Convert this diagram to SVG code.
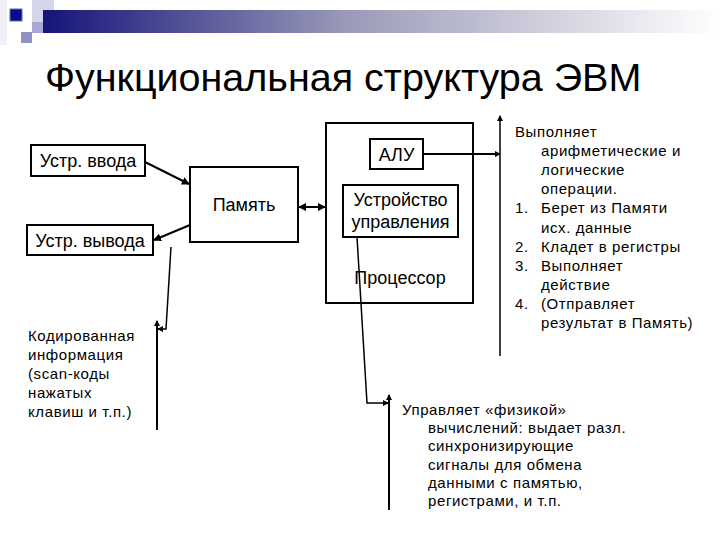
<svg xmlns="http://www.w3.org/2000/svg" width="720" height="540" viewBox="0 0 720 540">
<defs>
<linearGradient id="bar" x1="0" y1="0" x2="1" y2="0">
<stop offset="0" stop-color="#14147a"/>
<stop offset="0.45" stop-color="#9a9ab8"/>
<stop offset="1" stop-color="#ffffff"/>
</linearGradient>
<marker id="ah" markerWidth="8" markerHeight="8" refX="7" refY="4" orient="auto" markerUnits="userSpaceOnUse">
<path d="M0,0 L8,4 L0,8 Z" fill="#000"/>
</marker>
<marker id="ahs" markerWidth="6" markerHeight="6" refX="5" refY="3" orient="auto" markerUnits="userSpaceOnUse">
<path d="M0,0 L6,3 L0,6 Z" fill="#000"/>
</marker>
<marker id="ahb" markerWidth="8" markerHeight="8" refX="1" refY="4" orient="auto" markerUnits="userSpaceOnUse">
<path d="M8,0 L0,4 L8,8 Z" fill="#000"/>
</marker>
</defs>
<style>
text{font-family:"Liberation Sans",Arial,sans-serif;fill:#000}
.box{fill:#fff;stroke:#000;stroke-width:2}
.lbl{font-size:18px}
.note{font-size:15px;letter-spacing:0.6px}
.conn{fill:none;stroke:#000;stroke-width:2}
.thin{fill:none;stroke:#000;stroke-width:1.5}
</style>
<rect width="720" height="540" fill="#fff"/>
<g id="decor">
<rect x="0" y="0" width="7" height="45" fill="#f0f0f6"/>
<rect x="32" y="0" width="22" height="22" fill="#d4d4ea"/>
<rect x="43" y="10" width="677" height="23" fill="url(#bar)"/>
<rect x="32" y="22" width="11" height="11" fill="#a8a8d6"/>
<rect x="10" y="9" width="12" height="12" fill="#0a0a8c" stroke="#6a6ab8" stroke-width="1"/>
<rect x="21" y="32" width="11" height="11" fill="#9090c8"/>
</g>
<text id="title" x="45" y="91" font-size="39.5">Функциональная структура ЭВМ</text>
<g id="input"><rect class="box" x="31" y="145" width="114" height="31"/><text class="lbl" x="88" y="167" text-anchor="middle">Устр. ввода</text></g>
<g id="output"><rect class="box" x="27" y="225" width="126" height="30"/><text class="lbl" x="90" y="247" text-anchor="middle">Устр. вывода</text></g>
<g id="memory"><rect class="box" x="190" y="167" width="108" height="75"/><text class="lbl" x="244" y="211" text-anchor="middle">Память</text></g>
<g id="processor"><rect class="box" x="326" y="123" width="147" height="180"/><text class="lbl" x="400" y="284" text-anchor="middle">Процессор</text></g>
<g id="alu"><rect class="box" x="370" y="139" width="53" height="30"/><text class="lbl" x="396.5" y="161" text-anchor="middle">АЛУ</text></g>
<g id="cu"><rect class="box" x="343" y="185" width="115" height="52"/><text class="lbl" x="400.5" y="206" text-anchor="middle">Устройство</text><text class="lbl" x="400.5" y="228" text-anchor="middle">управления</text></g>
<g id="connectors">
<line class="conn" x1="145" y1="162" x2="189" y2="184" marker-end="url(#ah)"/>
<line class="conn" x1="190" y1="225" x2="154" y2="240" marker-end="url(#ah)"/>
<line class="conn" x1="299" y1="207" x2="325" y2="207" marker-start="url(#ahb)" marker-end="url(#ah)"/>
<line class="conn" x1="423" y1="154" x2="500" y2="154" marker-end="url(#ahs)"/>
<line class="thin" x1="500" y1="356" x2="500" y2="116" marker-end="url(#ahs)"/>
<polyline class="thin" points="357,237 367,403 388,403" marker-end="url(#ahs)"/>
<line class="conn" x1="389" y1="510" x2="389" y2="395" marker-end="url(#ahs)"/>
<polyline class="thin" points="171,247 166,329 158,329" marker-end="url(#ahs)"/>
<line class="conn" x1="157" y1="430" x2="157" y2="321" marker-end="url(#ahs)"/>
</g>
<g id="alu-note" class="note">
<text x="515" y="137">Выполняет</text>
<text x="541" y="156">арифметические и</text>
<text x="541" y="175">логические</text>
<text x="541" y="194">операции.</text>
<text x="515" y="213">1.</text><text x="541" y="213">Берет из Памяти</text>
<text x="541" y="233">исх. данные</text>
<text x="515" y="252">2.</text><text x="541" y="252">Кладет в регистры</text>
<text x="515" y="271">3.</text><text x="541" y="271">Выполняет</text>
<text x="541" y="290">действие</text>
<text x="515" y="309">4.</text><text x="541" y="309">(Отправляет</text>
<text x="541" y="328">результат в Память)</text>
</g>
<g id="cu-note" class="note">
<text x="402" y="415">Управляет «физикой»</text>
<text x="428" y="433">вычислений: выдает разл.</text>
<text x="428" y="451">синхронизирующие</text>
<text x="428" y="470">сигналы для обмена</text>
<text x="428" y="488">данными с памятью,</text>
<text x="428" y="506">регистрами, и т.п.</text>
</g>
<g id="io-note" class="note">
<text x="28" y="341">Кодированная</text>
<text x="28" y="360">информация</text>
<text x="28" y="379">(scan-коды</text>
<text x="28" y="398">нажатых</text>
<text x="28" y="417">клавиш и т.п.)</text>
</g>
</svg>
